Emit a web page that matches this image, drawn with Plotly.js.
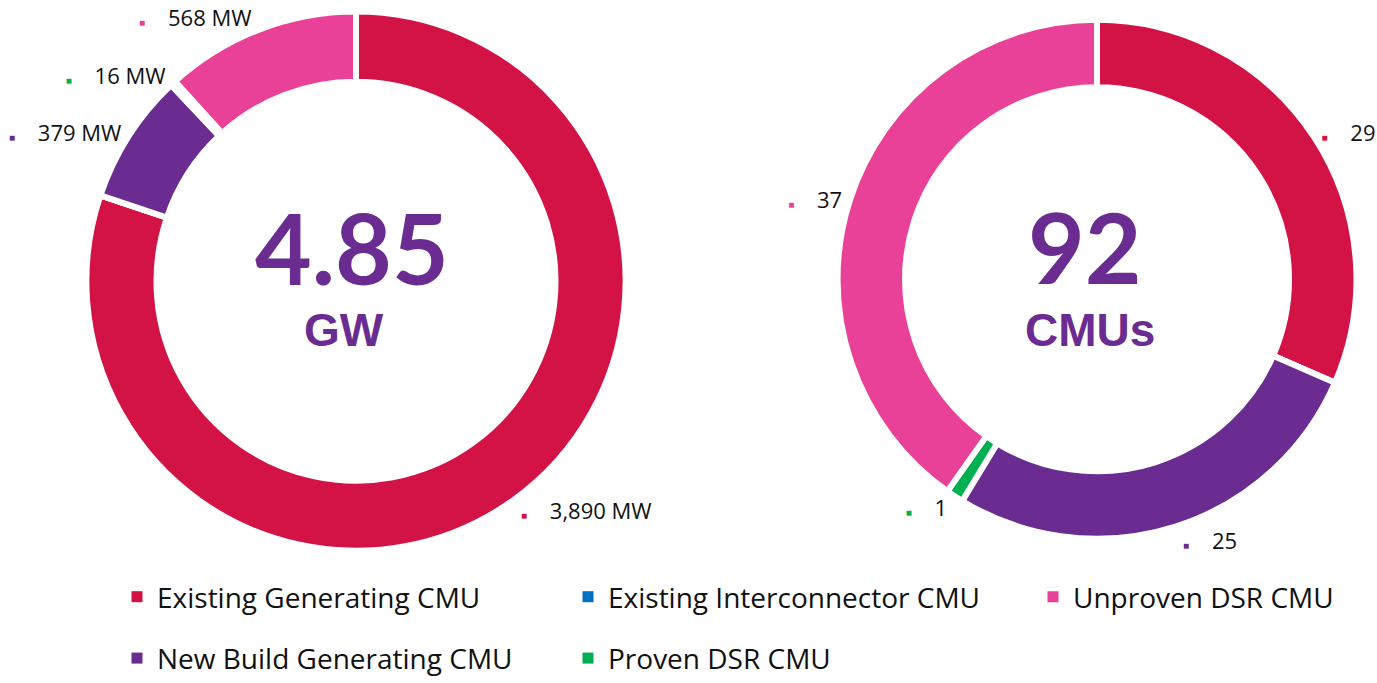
<!DOCTYPE html>
<html>
<head>
<meta charset="utf-8">
<script src="https://cdn.plot.ly/plotly-3.0.1.min.js"></script>
<style>html,body{margin:0;padding:0;background:#fff}#chart{width:1377px;height:683px}</style>
</head>
<body>
<div id="chart"></div>
<script>
// ---- data ----
const categories = ['Existing Generating CMU', 'Existing Interconnector CMU', 'New Build Generating CMU', 'Proven DSR CMU', 'Unproven DSR CMU'];
const capacityMW = [3890, 0, 379, 16, 568];
const cmuCounts = [29, 0, 25, 1, 37];
const legendCol1 = ['Existing Generating CMU', 'New Build Generating CMU'];
const legendCol2 = ['Existing Interconnector CMU', 'Proven DSR CMU'];
const legendCol3 = ['Unproven DSR CMU'];
const centerUnits = ['GW', 'CMUs'];

// ---- styles ----
const colorMap = {
  'Existing Generating CMU': '#D31245',
  'Existing Interconnector CMU': '#0070C0',
  'New Build Generating CMU': '#6A2C91',
  'Proven DSR CMU': '#00B050',
  'Unproven DSR CMU': '#E84197'
};
const colors = categories.map(c => colorMap[c]);
const purple = '#6A2C91';
const fontText = '"Open Sans", Lato, sans-serif';
const fontBig = 'Lato, "Open Sans", sans-serif';

function fmt(v) { return v.toLocaleString('en-US'); }
function labelText(vals, suffix) {
  return vals.map((v, i) => v > 0
    ? '<span style="color:' + colors[i] + ';font-size:10px">■</span>    ' + fmt(v) + suffix
    : '');
}

const W = 1377, H = 683;
function dom(cxp, cyp, half) {
  return {x: [(cxp - half) / W, (cxp + half) / W], y: [1 - (cyp + half) / H, 1 - (cyp - half) / H]};
}
const leftDom = dom(356, 291, 279);
const rightDom = dom(1097, 289, 268.5);

const pieCommon = {
  type: 'pie',
  labels: categories,
  hole: 0.74,
  sort: false,
  direction: 'clockwise',
  rotation: 0,
  textinfo: 'text',
  textposition: 'outside',
  outsidetextfont: {family: fontText, size: 22, color: '#111'},
  marker: {colors: colors, line: {color: '#ffffff', width: 6}},
  showlegend: false,
  hoverinfo: 'label+value'
};

const traces = [
  Object.assign({}, pieCommon, {values: capacityMW, text: labelText(capacityMW, ' MW'), domain: leftDom}),
  Object.assign({}, pieCommon, {values: cmuCounts, text: labelText(cmuCounts, ''), domain: rightDom})
];

[[legendCol1, 'legend'], [legendCol2, 'legend2'], [legendCol3, 'legend3']].forEach(([names, lg]) => {
  names.forEach(name => traces.push({
    type: 'scatter', mode: 'markers', x: [null], y: [null], name: name,
    legendgroup: name,
    marker: {symbol: 'square', size: 11, color: colorMap[name]},
    legend: lg, hoverinfo: 'skip'
  }));
});

const totalGW = (capacityMW.reduce((a, b) => a + b, 0) / 1000).toFixed(2);
const totalCMU = String(cmuCounts.reduce((a, b) => a + b, 0));

const annotations = [
  {text: totalGW, x: 352, y: 256},
  {text: centerUnits[0], x: 344, y: 341, small: true},
  {text: totalCMU, x: 1085, y: 255},
  {text: centerUnits[1], x: 1090, y: 341, small: true}
].map(a => ({
  text: a.text, x: a.x / W, y: 1 - a.y / H, xref: 'paper', yref: 'paper',
  xanchor: 'center', yanchor: 'middle', showarrow: false,
  font: a.small
    ? {family: '"Liberation Sans", Arial, sans-serif', size: 46, color: purple, weight: 'bold'}
    : {family: fontBig, size: 98, color: purple, weight: 'bold'}
}));

const legendCommon = {
  orientation: 'v', xanchor: 'left', yanchor: 'top',
  traceorder: 'grouped', tracegroupgap: 22,
  font: {family: fontText, size: 28, color: '#111'},
  bgcolor: 'rgba(0,0,0,0)', itemclick: false, itemdoubleclick: false,
  y: 1 - 592 / H
};

const layout = {
  width: W, height: H,
  margin: {l: 0, r: 0, t: 0, b: 0},
  paper_bgcolor: '#ffffff', plot_bgcolor: '#ffffff',
  xaxis: {visible: false}, yaxis: {visible: false},
  showlegend: true,
  legend: Object.assign({}, legendCommon, {x: 117 / W}),
  legend2: Object.assign({}, legendCommon, {x: 568 / W}),
  legend3: Object.assign({}, legendCommon, {x: 1033 / W}),
  annotations: annotations
};

Plotly.newPlot('chart', traces, layout, {displayModeBar: false, staticPlot: true});
</script>
</body>
</html>
